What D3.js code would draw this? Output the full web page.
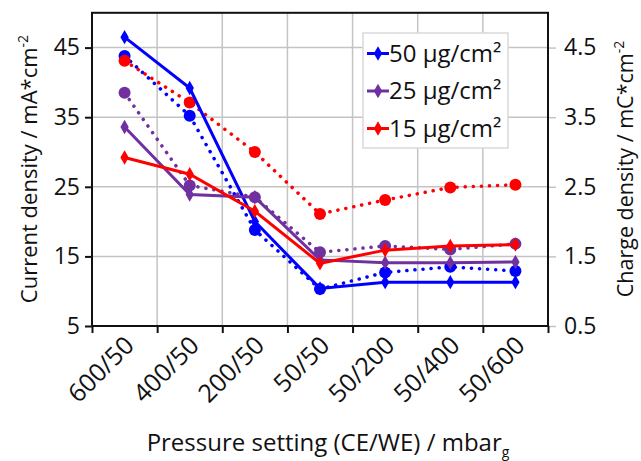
<!DOCTYPE html>
<html><head><meta charset="utf-8">
<script src="https://cdn.jsdelivr.net/npm/d3@7"></script>
<style>
html,body{margin:0;padding:0;background:#fff;}
svg{display:block;font-family:"Open Sans",sans-serif;}
</style></head>
<body><svg id="chart" width="641" height="461"></svg>
<script>
const categories = ["600/50","400/50","200/50","50/50","50/200","50/400","50/600"];
const current50 = [46.5, 39.2, 20.0, 10.4, 11.3, 11.3, 11.3];
const current25 = [33.6, 23.9, 23.5, 14.5, 14.1, 14.1, 14.2];
const current15 = [29.2, 26.8, 21.5, 14.0, 15.9, 16.5, 16.7];
const charge50 = [4.38, 3.52, 1.88, 1.03, 1.27, 1.35, 1.29];
const charge25 = [3.85, 2.52, 2.35, 1.56, 1.65, 1.60, 1.68];
const charge15 = [4.31, 3.71, 3.00, 2.11, 2.31, 2.49, 2.53];
const leftTicks = [5, 15, 25, 35, 45];
const rightTicks = [0.5, 1.5, 2.5, 3.5, 4.5];
const seriesNames = ["50 µg/cm²", "25 µg/cm²", "15 µg/cm²"];
const colors = ["#0000ff", "#7030a0", "#ff0000"];

const svg = d3.select("#chart");
const L = 92, R = 548, T = 12.8, B = 326;
const x = d3.scaleBand().domain(categories).range([L, R]).padding(0);
const xi = d3.scaleLinear().domain([0, categories.length]).range([L, R]);
const yL = d3.scaleLinear().domain([5, 50]).range([B, T]);
const yR = d3.scaleLinear().domain([0.5, 5]).range([B, T]);
const cx = d => x(d) + x.bandwidth() / 2;

// gridlines
const grid = svg.append("g").attr("stroke", "#c4c4c4").attr("stroke-width", 1.5);
grid.selectAll("line.h").data(leftTicks.slice(1)).join("line")
  .attr("x1", L).attr("x2", R).attr("y1", d => yL(d)).attr("y2", d => yL(d));
grid.selectAll("line.v").data(d3.range(1, categories.length)).join("line")
  .attr("x1", d => xi(d)).attr("x2", d => xi(d)).attr("y1", T).attr("y2", B);

// right axis (gray ticks)
const ra = svg.append("g").attr("transform", `translate(${R},0)`)
  .call(d3.axisRight(yR).tickValues(rightTicks).tickSize(8).tickPadding(8).tickFormat(d3.format(".1f")));
ra.select(".domain").remove();
ra.selectAll("line").attr("stroke", "#c4c4c4").attr("stroke-width", 1.5);
ra.selectAll("text").attr("font-size", 23).attr("fill", "#111").attr("font-family", "Open Sans");

// left axis
const la = svg.append("g").attr("transform", `translate(${L},0)`)
  .call(d3.axisLeft(yL).tickValues(leftTicks).tickSize(7).tickPadding(5));
la.select(".domain").remove();
la.selectAll("line").attr("stroke", "#111").attr("stroke-width", 2);
la.selectAll("text").attr("font-size", 23).attr("fill", "#111").attr("font-family", "Open Sans");

// bottom axis tick marks
const ba = svg.append("g").attr("transform", `translate(0,${B})`)
  .call(d3.axisBottom(xi).tickValues(d3.range(0, categories.length + 1)).tickSize(7).tickFormat(""));
ba.select(".domain").remove();
ba.selectAll("line").attr("stroke", "#111").attr("stroke-width", 2);

// x labels
svg.append("g").selectAll("text").data(categories).join("text")
  .attr("transform", d => `translate(${cx(d) + 11},${B + 21}) rotate(-45)`)
  .attr("text-anchor", "end").attr("font-size", 25).attr("fill", "#111")
  .text(d => d);

// frame
svg.append("rect").attr("x", L).attr("y", T).attr("width", R - L).attr("height", B - T)
  .attr("fill", "none").attr("stroke", "#111").attr("stroke-width", 2);

// series
const chargeSets = [charge50, charge25, charge15];
const currentSets = [current50, current25, current15];
const lineL = d3.line().x((d, i) => cx(categories[i])).y(d => yL(d));
const lineR = d3.line().x((d, i) => cx(categories[i])).y(d => yR(d));
const diamond = d3.symbol().type(d3.symbolDiamond).size(60);

chargeSets.forEach((vals, k) => {
  const g = svg.append("g");
  g.append("path").attr("d", lineR(vals)).attr("fill", "none")
    .attr("stroke", colors[k]).attr("stroke-width", 3.5)
    .attr("stroke-linecap", "round").attr("stroke-dasharray", "0.1 8");
  g.selectAll("circle").data(vals).join("circle")
    .attr("cx", (d, i) => cx(categories[i])).attr("cy", d => yR(d)).attr("r", 6)
    .attr("fill", colors[k]);
});
currentSets.forEach((vals, k) => {
  const g = svg.append("g");
  g.append("path").attr("d", lineL(vals)).attr("fill", "none")
    .attr("stroke", colors[k]).attr("stroke-width", 3);
  g.selectAll("path.m").data(vals).join("path").attr("class", "m")
    .attr("d", diamond)
    .attr("transform", (d, i) => `translate(${cx(categories[i])},${yL(d)})`)
    .attr("fill", colors[k]);
});

// legend
const lg = svg.append("g");
lg.append("rect").attr("x", 363).attr("y", 33).attr("width", 145).attr("height", 115)
  .attr("fill", "#fff").attr("stroke", "#d9d9d9").attr("stroke-width", 1.5);
seriesNames.forEach((name, k) => {
  const yy = 53.5 + k * 37.5;
  lg.append("line").attr("x1", 367).attr("x2", 389).attr("y1", yy).attr("y2", yy)
    .attr("stroke", colors[k]).attr("stroke-width", 3);
  lg.append("path").attr("d", diamond).attr("transform", `translate(378,${yy})`).attr("fill", colors[k]);
  lg.append("text").attr("x", 389).attr("y", yy + 8).attr("font-size", 24).attr("fill", "#111").text(name);
});

// axis titles
const lt = svg.append("text").attr("transform", "translate(37,169) rotate(-90)")
  .attr("text-anchor", "middle").attr("font-size", 22).attr("fill", "#111");
lt.append("tspan").text("Current density / mA*cm");
lt.append("tspan").attr("dy", -9).attr("font-size", 14).text("-2");

const rt = svg.append("text").attr("transform", "translate(633,169) rotate(-90)")
  .attr("text-anchor", "middle").attr("font-size", 21.5).attr("fill", "#111");
rt.append("tspan").text("Charge density / mC*cm");
rt.append("tspan").attr("dy", -9).attr("font-size", 14).text("-2");

const xt = svg.append("text").attr("x", 328).attr("y", 451)
  .attr("text-anchor", "middle").attr("font-size", 24).attr("fill", "#111");
xt.append("tspan").text("Pressure setting (CE/WE) / mbar");
xt.append("tspan").attr("dy", 6).attr("font-size", 14).text("g");
</script></body></html>
